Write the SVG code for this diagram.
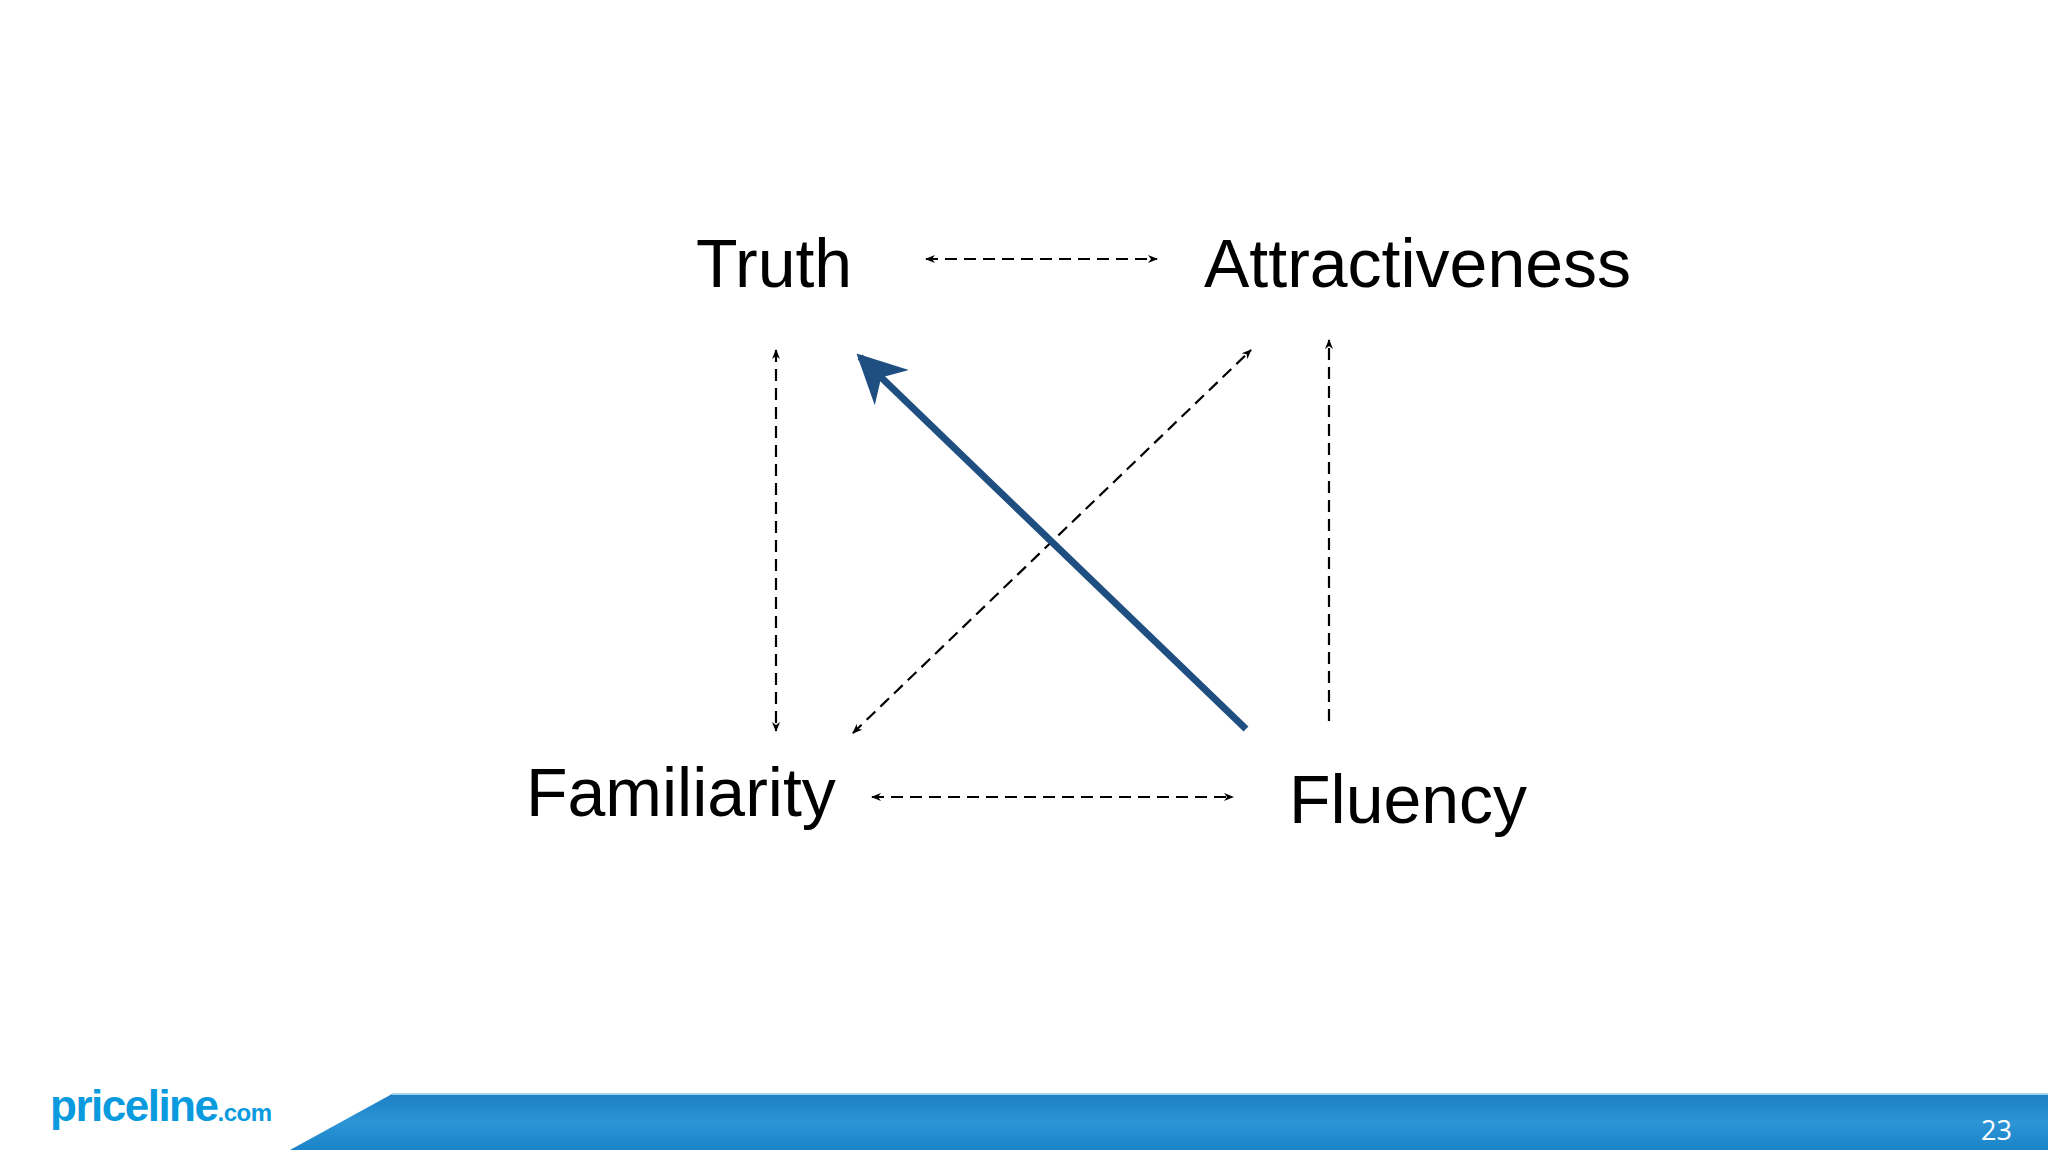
<svg xmlns="http://www.w3.org/2000/svg" width="2048" height="1152" viewBox="0 0 2048 1152">
<defs>
<marker id="ah" viewBox="0 0 10 10" refX="9" refY="5" markerWidth="10" markerHeight="10" markerUnits="userSpaceOnUse" orient="auto-start-reverse"><path d="M0,1 L10,5 L0,9 L3,5 Z" fill="#000"/></marker>
<marker id="big" viewBox="0 0 10 10" refX="9" refY="5" markerWidth="7" markerHeight="7" orient="auto"><path d="M0,0 L10,5 L0,10 L3,5 Z" fill="#1f4e80"/></marker>
<linearGradient id="band" x1="0" y1="0" x2="0" y2="1"><stop offset="0" stop-color="#1d7fc4"/><stop offset="0.5" stop-color="#2b95d6"/><stop offset="1" stop-color="#1b83c9"/></linearGradient>
</defs>
<style>
.lbl{font-family:"Liberation Sans",Arial,sans-serif;font-size:68px;fill:#000}
.d{stroke:#000;stroke-width:2.2;stroke-dasharray:12,7;fill:none}
</style>
<rect width="2048" height="1152" fill="#fff"/>
<g id="truth"><text class="lbl" x="696" y="287">Truth</text></g>
<g id="attractiveness"><text class="lbl" x="1204" y="287">Attractiveness</text></g>
<g id="familiarity"><text class="lbl" x="526" y="816">Familiarity</text></g>
<g id="fluency"><text class="lbl" x="1289" y="823">Fluency</text></g>
<g id="connectors">
<line class="d" x1="926" y1="259" x2="1157" y2="259" marker-start="url(#ah)" marker-end="url(#ah)"/>
<line class="d" x1="776" y1="350" x2="776" y2="731" marker-start="url(#ah)" marker-end="url(#ah)"/>
<line class="d" x1="1329" y1="721" x2="1329" y2="340" marker-end="url(#ah)"/>
<line class="d" x1="853" y1="733" x2="1251" y2="350" marker-start="url(#ah)" marker-end="url(#ah)"/>
<line class="d" x1="872" y1="797" x2="1233" y2="797" marker-start="url(#ah)" marker-end="url(#ah)"/>
<line x1="1246" y1="729" x2="860" y2="357" stroke="#1f4e80" stroke-width="7" marker-end="url(#big)"/>
</g>
<g id="footer">
<path d="M392,1094 L2048,1094 L2048,1150 L290,1150 Z" fill="url(#band)"/>
<line x1="392" y1="1094" x2="2048" y2="1094" stroke="#9fd3ee" stroke-width="2"/>
<text x="1981" y="1140" font-family="'Open Sans','Noto Sans',sans-serif" font-size="27" fill="#fff">23</text>
<text x="50" y="1121" font-family="'Liberation Sans',Arial,sans-serif" font-weight="bold" font-size="44" fill="#0a9ade" letter-spacing="-1.5">priceline<tspan font-size="24" letter-spacing="-0.5">.com</tspan></text>
</g>
</svg>
